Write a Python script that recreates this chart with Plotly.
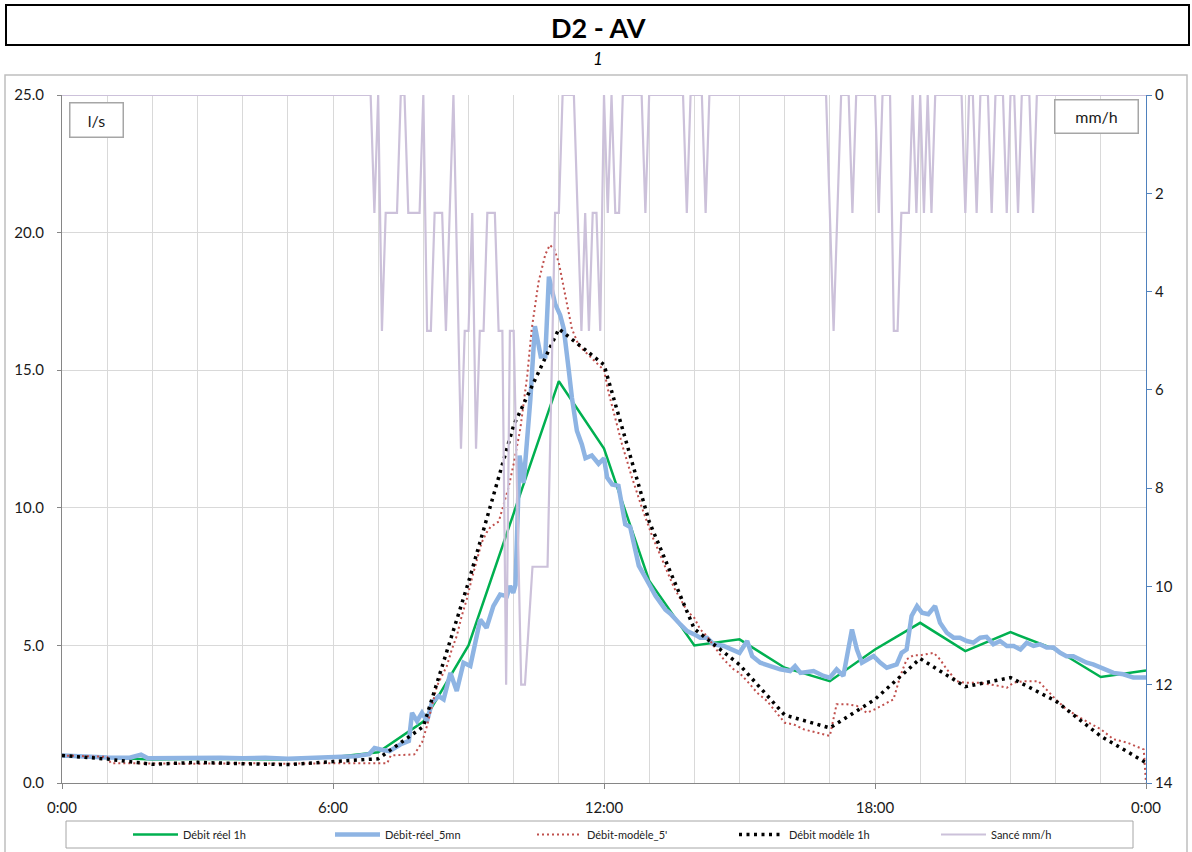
import plotly.graph_objects as go

# ---------------- data ----------------
# Débit réel 1h (l/s), hourly
green_h = list(range(25))
green_v = [0.99, 0.91, 0.85, 0.88, 0.87, 0.85, 0.94, 1.12, 2.23, 5.0, 9.8, 14.6, 12.15,
           7.35, 5.0, 5.22, 4.19, 3.70, 4.85, 5.82, 4.79, 5.48, 4.85, 3.85, 4.09]

# Débit modèle 1h (l/s), hourly
black_h = list(range(25))
black_v = [1.0, 0.87, 0.68, 0.75, 0.70, 0.67, 0.78, 0.88, 2.05, 7.3, 13.0, 16.5, 15.2,
           9.5, 5.6, 4.3, 2.47, 2.0, 3.04, 4.52, 3.5, 3.83, 2.98, 1.7, 0.74]

# Débit-réel_5mn (l/s)
blue_h = [0.0, 0.5, 1.0, 1.5, 1.75, 1.9, 2.5, 3.0, 3.5, 4.0, 4.5, 5.0, 5.5, 6.0, 6.5, 6.8,
          6.92, 7.1, 7.25, 7.49, 7.68, 7.75, 7.86, 7.97, 8.08, 8.19, 8.34, 8.45, 8.6, 8.74,
          8.89, 9.04, 9.26, 9.4, 9.55, 9.7, 9.85, 9.92, 9.99, 10.04, 10.13, 10.22, 10.3,
          10.37, 10.47, 10.6, 10.7, 10.78, 10.85, 10.92, 11.03, 11.11, 11.22, 11.29, 11.4,
          11.51, 11.59, 11.73, 11.88, 12.0, 12.07, 12.18, 12.32, 12.47, 12.58, 12.77, 12.99,
          13.14, 13.36, 13.47, 13.69, 13.84, 14.0, 14.13, 14.28, 14.43, 14.65, 14.87, 15.0,
          15.17, 15.28, 15.46, 15.68, 15.9, 16.12, 16.23, 16.35, 16.64, 16.86, 17.0, 17.15,
          17.3, 17.49, 17.6, 17.71, 17.97, 18.12, 18.26, 18.48, 18.59, 18.7, 18.81, 18.93,
          19.04, 19.18, 19.33, 19.44, 19.59, 19.74, 19.88, 20.03, 20.18, 20.33, 20.47, 20.62,
          20.77, 20.92, 21.07, 21.22, 21.36, 21.51, 21.65, 21.8, 21.95, 22.1, 22.24, 22.39,
          22.54, 22.69, 22.83, 23.0, 23.13, 23.28, 23.5, 23.72, 24.0]
blue_v = [1.0, 0.95, 0.93, 0.92, 1.03, 0.9, 0.92, 0.93, 0.92, 0.9, 0.92, 0.88, 0.9, 0.92,
          0.97, 1.05, 1.27, 1.2, 1.16, 1.4, 1.53, 2.55, 2.25, 2.55, 2.25, 2.92, 3.16, 3.04,
          4.0, 3.34, 4.37, 4.25, 5.94, 5.64, 6.43, 6.85, 6.79, 7.16, 6.91, 7.2, 11.9, 10.9,
          12.5, 13.95, 16.6, 15.5, 15.5, 18.4, 17.9, 17.4, 17.0, 16.5, 15.0, 14.0, 12.8, 12.3,
          11.8, 11.9, 11.6, 11.8, 11.1, 10.85, 10.8, 9.4, 9.3, 7.9, 7.25, 6.8, 6.3, 6.15,
          5.76, 5.52, 5.4, 5.28, 5.28, 5.04, 4.98, 4.85, 4.73, 5.16, 4.61, 4.37, 4.25, 4.13,
          4.07, 4.25, 4.0, 4.07, 3.89, 3.83, 4.13, 3.89, 5.58, 4.85, 4.37, 4.61, 4.37, 4.19,
          4.31, 4.73, 4.85, 6.07, 6.43, 6.19, 6.13, 6.43, 5.82, 5.46, 5.28, 5.28, 5.16, 5.1,
          5.28, 5.31, 5.04, 5.16, 4.98, 4.98, 4.85, 5.1, 4.98, 5.04, 4.92, 4.92, 4.73, 4.61,
          4.61, 4.49, 4.37, 4.31, 4.19, 4.07, 4.0, 3.95, 3.83, 3.83]

# Débit-modèle_5' (l/s)
red_h = [0.0, 0.5, 1.0, 1.08, 2.0, 3.0, 4.0, 5.0, 6.0, 7.0, 7.2, 7.28, 7.8, 7.97, 8.08,
         8.19, 8.3, 8.41, 8.52, 8.63, 8.74, 8.85, 8.96, 9.07, 9.18, 9.29, 9.4, 9.49, 9.67,
         9.78, 9.89, 10.0, 10.15, 10.3, 10.4, 10.55, 10.7, 10.8, 10.9, 11.0, 11.14, 11.29,
         11.44, 11.59, 11.81, 12.0, 12.1, 12.25, 12.4, 12.62, 12.84, 13.06, 13.32, 13.55,
         13.84, 14.0, 14.13, 14.28, 14.43, 14.65, 14.87, 15.0, 15.17, 15.39, 15.61, 15.83,
         16.0, 16.2, 16.42, 16.71, 17.0, 17.15, 17.38, 17.6, 17.82, 18.0, 18.26, 18.41,
         18.56, 18.7, 18.85, 19.0, 19.3, 19.44, 19.59, 19.81, 20.0, 20.33, 20.77, 20.92,
         21.06, 21.29, 21.62, 21.8, 22.0, 22.24, 22.54, 23.0, 23.28, 23.58, 23.87, 23.95,
         24.0]
red_v = [1.0, 0.98, 0.95, 0.72, 0.7, 0.7, 0.72, 0.7, 0.72, 0.72, 0.72, 1.0, 1.04, 1.47,
         2.07, 2.8, 3.52, 3.89, 4.25, 4.85, 5.34, 6.07, 6.67, 7.4, 8.12, 8.73, 9.1, 9.31,
         9.5, 10.16, 10.76, 11.6, 12.9, 14.8, 16.5, 18.2, 19.2, 19.55, 19.4, 18.9, 17.8,
         16.5, 15.9, 15.65, 15.3, 15.0, 14.2, 13.25, 12.3, 11.1, 10.0, 9.0, 8.0, 7.1, 6.25,
         6.0, 5.58, 5.34, 4.98, 4.49, 4.13, 4.0, 3.7, 3.28, 2.98, 2.55, 2.19, 2.13, 1.95,
         1.83, 1.71, 2.86, 2.86, 2.8, 2.55, 2.68, 2.92, 3.04, 3.89, 4.49, 4.64, 4.64, 4.73,
         4.49, 4.13, 3.7, 3.64, 3.64, 3.52, 3.46, 3.64, 3.7, 3.7, 3.4, 3.04, 2.68, 2.37,
         1.95, 1.59, 1.47, 1.28, 1.22, 0.0]

# Sancé mm/h : 5-min rain intensity, non-zero steps only (all other 5-min steps are 0)
rain_times = ["6:55", "7:05", "7:10", "7:15", "7:20", "7:25", "7:40", "7:45", "7:50", "7:55",
              "8:05", "8:10", "8:15", "8:20", "8:25", "8:30", "8:35", "8:45", "8:50", "8:55",
              "9:00", "9:05", "9:10", "9:15", "9:20", "9:25", "9:30", "9:35", "9:40", "9:45",
              "9:50", "9:55", "10:00", "10:05", "10:10", "10:15", "10:20", "10:25", "10:30",
              "10:35", "10:40", "10:45", "10:50", "10:55", "11:00", "11:25", "11:30", "11:35",
              "11:40", "11:45", "11:50", "11:55", "12:05", "12:15", "12:20", "12:55", "13:50",
              "14:15", "17:00", "17:05", "17:10", "17:30", "18:05", "18:25", "18:30", "18:35",
              "18:40", "18:45", "18:55", "19:05", "19:15", "20:00", "20:15", "20:35", "20:55",
              "21:10", "21:30"]
rain_values = [2.4, 4.8, 2.4, 2.4, 2.4, 2.4, 2.4, 2.4, 2.4, 2.4,
               4.8, 4.8, 2.4, 2.4, 2.4, 4.8, 2.4, 3.6, 7.2, 4.8,
               4.8, 2.4, 7.2, 4.8, 4.8, 2.4, 2.4, 2.4, 4.8, 4.8,
               12.0, 4.8, 4.8, 8.4, 12.0, 12.0, 10.8, 9.6, 9.6,
               9.6, 9.6, 9.6, 6.0, 2.4, 2.4, 2.4, 4.8, 2.4,
               4.8, 2.4, 2.4, 4.8, 2.4, 2.4, 2.4, 2.4, 2.4,
               2.4, 2.4, 4.8, 2.4, 2.4, 2.4, 4.8, 4.8, 2.4,
               2.4, 2.4, 2.4, 2.4, 2.4, 2.4, 2.4, 2.4, 2.4,
               2.4, 2.4]

x_ticks = [0, 6, 12, 18, 24]
x_ticktext = ["0:00", "6:00", "12:00", "18:00", "0:00"]

# build the full 5-minute rain table
rain_map = {}
for t, v in zip(rain_times, rain_values):
    hh, mm = t.split(":")
    rain_map[int(hh) * 12 + int(mm) // 5] = v
rain_h = [k / 12 for k in range(289)]
rain_v = [rain_map.get(k, 0.0) for k in range(289)]

# ---------------- figure ----------------
W, H = 1192, 852
L, R, T, B = 62, 1146, 95, 783


def px(x):
    return (x - L) / (R - L)


def py(y):
    return (B - y) / (B - T)


FONT = "Lato, 'Open Sans', sans-serif"

fig = go.Figure()
fig.add_trace(go.Scatter(x=green_h, y=green_v, mode="lines", name="Débit réel 1h",
                         line=dict(color="#00B050", width=2.5)))
fig.add_trace(go.Scatter(x=blue_h, y=blue_v, mode="lines", name="Débit-réel_5mn",
                         line=dict(color="#8EB4E3", width=4.5)))
fig.add_trace(go.Scatter(x=red_h, y=red_v, mode="lines", name="Débit-modèle_5'",
                         line=dict(color="#C0504D", width=2, dash="2px,3px")))
fig.add_trace(go.Scatter(x=black_h, y=black_v, mode="lines", name="Débit modèle 1h",
                         line=dict(color="#000000", width=3.5, dash="3px,4.5px")))
fig.add_trace(go.Scatter(x=rain_h, y=rain_v, mode="lines", name="Sancé mm/h", yaxis="y2",
                         line=dict(color="#CCC1DA", width=2.2)))

fig.update_layout(
    width=W, height=H,
    margin=dict(l=L, r=W - R, t=T, b=H - B, autoexpand=False),
    paper_bgcolor="white", plot_bgcolor="white",
    font=dict(family=FONT, size=14, color="#1a1a1a"),
    showlegend=True,
    legend=dict(orientation="h", x=px(128), y=py(834.5), xanchor="left", yanchor="middle",
                font=dict(size=11, color="#222"), entrywidth=142, entrywidthmode="pixels",
                itemwidth=45, bgcolor="rgba(0,0,0,0)", tracegroupgap=0),
    xaxis=dict(range=[0, 24], tickvals=x_ticks, ticktext=x_ticktext,
               showline=True, linecolor="#868686", linewidth=1,
               ticks="outside", ticklen=5, tickcolor="#868686",
               showgrid=True, gridcolor="#D9D9D9", gridwidth=1,
               minor=dict(dtick=1, tick0=0, showgrid=True, gridcolor="#D9D9D9", gridwidth=1,
                          ticks=""),
               zeroline=False, ticklabelstandoff=6, tickfont=dict(size=15)),
    yaxis=dict(range=[0, 25], dtick=5, tickformat=".1f",
               showline=True, linecolor="#868686", linewidth=1,
               ticks="outside", ticklen=4, tickcolor="#868686",
               showgrid=True, gridcolor="#D9D9D9", gridwidth=1,
               zeroline=False, ticklabelstandoff=10, tickfont=dict(size=15)),
    yaxis2=dict(range=[14, 0], dtick=2, overlaying="y", side="right",
                showline=True, linecolor="#4F81BD", linewidth=1.2,
                ticks="outside", ticklen=5, tickcolor="#4F81BD",
                showgrid=False, zeroline=False, tickfont=dict(size=15)),
    shapes=[
        # outer chart frame
        dict(type="rect", xref="paper", yref="paper", x0=px(5), x1=px(1187), y0=py(858), y1=py(75),
             line=dict(color="#BFBFBF", width=1.5), layer="below"),
        # title box
        dict(type="rect", xref="paper", yref="paper", x0=px(6), x1=px(1189), y0=py(45), y1=py(5),
             line=dict(color="#000000", width=2)),
        # legend box
        dict(type="rect", xref="paper", yref="paper", x0=px(66), x1=px(1133), y0=py(848), y1=py(821),
             line=dict(color="#A6A6A6", width=1)),
    ],
    annotations=[
        dict(text="<b>D2 - AV</b>", xref="paper", yref="paper", x=px(598), y=py(27),
             xanchor="center", yanchor="middle", showarrow=False,
             font=dict(size=27, color="#000", family=FONT)),
        dict(text="<i>1</i>", xref="paper", yref="paper", x=px(598), y=py(59),
             xanchor="center", yanchor="middle", showarrow=False,
             font=dict(size=17, color="#000", family=FONT)),
        dict(text="l/s", xref="paper", yref="paper", x=px(96), y=py(119.5),
             xanchor="center", yanchor="middle", showarrow=False, width=50, height=31,
             bordercolor="#A6A6A6", borderwidth=1.5, bgcolor="white",
             font=dict(size=16, color="#1a1a1a", family=FONT)),
        dict(text="mm/h", xref="paper", yref="paper", x=px(1096), y=py(116),
             xanchor="center", yanchor="middle", showarrow=False, width=80, height=30,
             bordercolor="#A6A6A6", borderwidth=1.5, bgcolor="white",
             font=dict(size=16, color="#1a1a1a", family=FONT)),
    ],
)

fig.write_html("out.html")
